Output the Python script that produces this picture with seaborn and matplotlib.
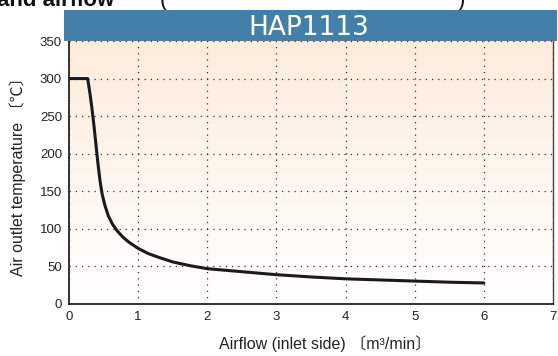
import numpy as np
import pandas as pd
import matplotlib
matplotlib.use("Agg")
import matplotlib.pyplot as plt
import seaborn as sns
from matplotlib.patches import Rectangle

# Data
airflow = [0.0, 0.27, 0.30, 0.33, 0.36, 0.39, 0.42, 0.45, 0.48, 0.52, 0.57, 0.63,
           0.70, 0.78, 0.87, 1.0, 1.15, 1.3, 1.5, 1.75, 2.0, 2.5, 3.0, 3.5, 4.0,
           4.5, 5.0, 5.5, 6.0]
temperature = [300, 300, 282, 262, 238, 212, 186, 163, 146, 131, 117, 106,
               97, 89, 82, 74, 67, 62, 56, 51, 47, 43, 39, 36, 33.5,
               32, 30.5, 29, 28]
x_ticks = [0, 1, 2, 3, 4, 5, 6, 7]
y_ticks = [0, 50, 100, 150, 200, 250, 300, 350]
title = "HAP1113"
x_label = "Airflow (inlet side) 〔m³/min〕"
y_label = "Air outlet temperature 〔℃〕"

sns.set_theme(style="white")
plt.rcParams['font.family'] = ['Liberation Sans', 'Noto Sans CJK JP', 'DejaVu Sans']

df = pd.DataFrame({"airflow": airflow, "temperature": temperature})

fig = plt.figure(figsize=(5.58, 3.56), dpi=100)
ax = fig.add_axes([69/558, 52/356, (553-69)/558, (304-41)/356])

# gradient background
grad = np.linspace(0, 1, 256).reshape(-1, 1)
top = np.array([253, 236, 220]) / 255.0
bot = np.array([255, 255, 255]) / 255.0
img = bot + (top - bot) * grad[..., None]
img = img.reshape(256, 1, 3)
ax.imshow(img, extent=[0, 7, 0, 350], origin='lower', aspect='auto', zorder=0)

sns.lineplot(data=df, x="airflow", y="temperature", ax=ax, color="#1a1a1a",
             linewidth=2.2, zorder=3)

ax.set_xlim(0, 7)
ax.set_ylim(0, 350)
ax.set_xticks(x_ticks)
ax.set_yticks(y_ticks)
ax.set_xticklabels([str(v) for v in x_ticks], fontsize=9.5, color="#222222")
ax.set_yticklabels([str(v) for v in y_ticks], fontsize=9.5, color="#222222")
ax.tick_params(axis='x', length=0, pad=5)
ax.tick_params(axis='y', length=0, pad=5)
ax.set_xlabel(x_label, fontsize=11.5, color="#222222", labelpad=9)
ax.xaxis.label.set_x(0.529)
ax.set_ylabel(y_label, fontsize=11.5, color="#222222", labelpad=10)

ax.grid(True, linestyle=(0, (1, 4)), color="#333333", linewidth=0.9, zorder=1)
ax.set_axisbelow(False)
for sp in ["left", "bottom"]:
    ax.spines[sp].set_color("#111111")
    ax.spines[sp].set_linewidth(1.2)
ax.spines["right"].set_color("#444444")
ax.spines["right"].set_linewidth(1.0)
ax.spines["top"].set_visible(False)

# title bar
bar = Rectangle((64/558, (356-41)/356), (557-64)/558, 31/356,
                transform=fig.transFigure, facecolor="#447faa", edgecolor="none", zorder=5)
fig.patches.append(bar)
fig.text((248+369)/2/558, (356-35)/356, title, color="white", fontsize=19,
         family="DejaVu Sans", ha="center", va="baseline", zorder=6)

# cropped heading fragment at top
fig.text(-0.005, (356-6)/356, "and airflow", fontsize=16, fontweight="bold",
         color="#111111", ha="left", va="baseline")
fig.text(160/558, (356-6)/356, "(", fontsize=16, color="#111111", ha="left", va="baseline")
fig.text(458/558, (356-6)/356, ")", fontsize=16, color="#111111", ha="left", va="baseline")

fig.savefig("out.png", dpi=100)
